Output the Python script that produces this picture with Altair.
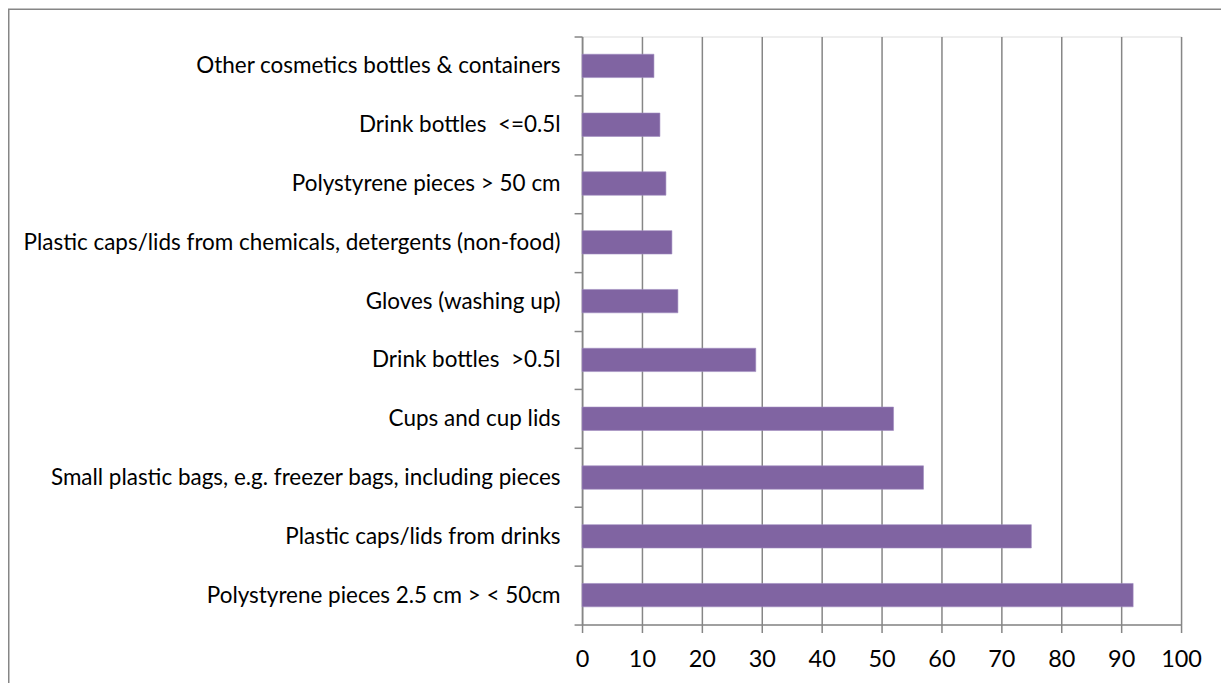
import altair as alt
import pandas as pd

categories = [
    "Other cosmetics bottles & containers",
    "Drink bottles\u00a0 <=0.5l",
    "Polystyrene pieces > 50 cm",
    "Plastic caps/lids from chemicals, detergents (non-food)",
    "Gloves (washing up)",
    "Drink bottles\u00a0 >0.5l",
    "Cups and cup lids",
    "Small plastic bags, e.g. freezer bags, including pieces",
    "Plastic caps/lids from drinks",
    "Polystyrene pieces 2.5 cm > < 50cm",
]
values = [12, 13, 14, 15, 16, 29, 52, 57, 75, 92]

df = pd.DataFrame({"item": categories, "count": values})

W, H = 600, 589
FONT = "Lato"
GRAY = "#868686"

bars = alt.Chart(df).mark_bar(
    color="#8064A2", stroke="#a08cc0", strokeWidth=0.6, size=23.4
).encode(
    x=alt.X("count:Q", scale=alt.Scale(domain=[0, 100], nice=False),
            axis=alt.Axis(values=list(range(0, 101, 10)), title=None,
                          grid=True, gridColor=GRAY, gridWidth=1.5,
                          domainColor=GRAY, domainWidth=1.5,
                          tickColor=GRAY, tickWidth=1.5, tickSize=8,
                          labelFlush=False,
                          labelFont=FONT, labelFontSize=23.5, labelColor="#000000",
                          labelPadding=15)),
    y=alt.Y("item:N", sort=categories,
            scale=alt.Scale(paddingInner=0, paddingOuter=0),
            axis=alt.Axis(title=None, tickBand="extent", grid=False,
                          domainColor=GRAY, domainWidth=1.5,
                          tickColor=GRAY, tickWidth=1.5, tickSize=8,
                          labelFont=FONT, labelFontSize=22.5, labelColor="#000000",
                          labelPadding=14, labelLimit=600)),
)

border = alt.Chart(pd.DataFrame({"a": [0]})).mark_rect(
    fill=None, stroke=GRAY, strokeWidth=1.5
).encode(
    x=alt.value(-574.25), x2=alt.value(W + 200),
    y=alt.value(-27.25), y2=alt.value(H + 200),
)

chart = alt.layer(border, bars).properties(
    width=W, height=H,
    autosize=alt.AutoSizeParams(type="none"),
    padding={"left": 575, "top": 28, "right": 40, "bottom": 58},
).configure_view(stroke=None).configure(background="#ffffff")

chart.save("out.html", embed_options={"renderer": "svg", "actions": False})
